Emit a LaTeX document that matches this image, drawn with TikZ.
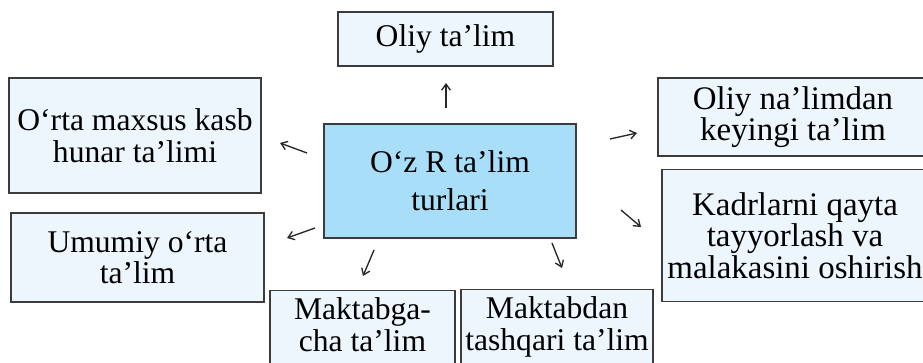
\documentclass[tikz,border=0pt]{standalone}
\usepackage{fontspec}
\setmainfont{Liberation Serif}
\usetikzlibrary{arrows.meta}
\definecolor{boxfill}{HTML}{EEF6FD}
\definecolor{mainfill}{HTML}{A9DEF9}
\definecolor{boxline}{HTML}{3C3C3C}

\begin{document}
\begin{tikzpicture}[x=0.75pt,y=-0.75pt,
  box/.style={draw=boxline,line width=1.1pt,fill=boxfill,align=center,
    inner sep=0pt,font=\fontsize{23.7}{23.8}\selectfont},
  bigbox/.style={box,font=\fontsize{24.7}{23.8}\selectfont},
  arr/.style={-{Straight Barb[length=4.5pt,width=6.5pt]},line width=1pt,black!85}]
\clip (0,0) rectangle (923,363);
\node[box,fill=mainfill,minimum width=189pt,minimum height=85.5pt,
  font=\fontsize{23.7}{28.5}\selectfont] (turlar) at (450,181) {O‘z R ta’lim\\turlari};
\node[box,minimum width=161.25pt,minimum height=40.5pt] (oliy) at (445.5,39) {Oliy ta’lim};
\node[box,minimum width=189pt,minimum height=86.25pt] (ortamaxsus) at (135,135.5) {O‘rta maxsus kasb\\hunar ta’limi};
\node[box,minimum width=189.75pt,minimum height=66.75pt] (umumiy) at (137.5,257.5) {Umumiy o‘rta\\ta’lim};
\node[bigbox,minimum width=202.5pt,minimum height=58.5pt] (oliydan) at (793,117) {Oliy na’limdan\\keyingi ta’lim};
\node[bigbox,minimum width=199.5pt,minimum height=99pt] (kadr) at (795,235.5) {Kadrlarni qayta\\tayyorlash va\\malakasini oshirish};
\node[box,anchor=north,inner ysep=5pt,text depth=60pt,minimum width=138.75pt] (maktabgacha) at (362.5,290) {Maktabga-\\cha ta’lim};
\node[box,anchor=north,inner ysep=5pt,text depth=60pt,minimum width=144pt] (maktabdan) at (557,289) {Maktabdan\\tashqari ta’lim};

% arrows
\coordinate (u1) at (446,108); \coordinate (u2) at (446,83);
\coordinate (r1) at (610,139); \coordinate (r2) at (637,133);
\coordinate (l1) at (307,153); \coordinate (l2) at (280,143);
\coordinate (lb1) at (315,228); \coordinate (lb2) at (287,238);
\coordinate (d1) at (374,250); \coordinate (d2) at (363,276);
\coordinate (e1) at (552,243); \coordinate (e2) at (562,268);
\coordinate (rb1) at (621,210); \coordinate (rb2) at (641,227);
\draw[arr] (u1) -- (u2);
\draw[arr] (r1) -- (r2);
\draw[arr] (l1) -- (l2);
\draw[arr] (lb1) -- (lb2);
\draw[arr] (d1) -- (d2);
\draw[arr] (e1) -- (e2);
\draw[arr] (rb1) -- (rb2);
\end{tikzpicture}
\end{document}
